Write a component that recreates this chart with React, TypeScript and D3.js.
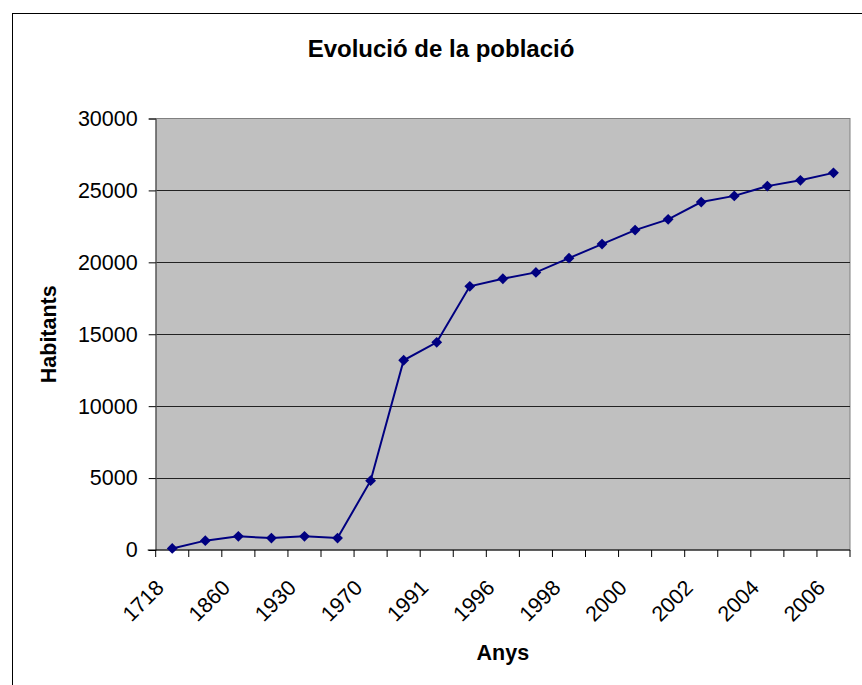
import React, { useEffect, useRef } from 'react';
import * as d3 from 'd3';

// categories (only every second one is labelled on the axis)
const anys = [
  '1718', '1787', '1860', '1900', '1930', '1950', '1970', '1981', '1991', '1995', '1996',
  '1997', '1998', '1999', '2000', '2001', '2002', '2003', '2004', '2005', '2006',
];
const habitants = [
  110, 650, 950, 830, 950, 830, 4820, 13190, 14440, 18330, 18860,
  19300, 20290, 21270, 22240, 22990, 24190, 24620, 25300, 25700, 26220,
];
const yTicks = [0, 5000, 10000, 15000, 20000, 25000, 30000];

const FONT = '"Liberation Sans", Arial, sans-serif';

const App = () => {
  const ref = useRef<SVGSVGElement>(null);

  useEffect(() => {
    const svg = d3.select(ref.current);
    svg.selectAll('*').remove();

    const left = 155.7;
    const right = 850;
    const top = 118.5;
    const bottom = 550;

    const x = d3.scaleBand().domain(anys).range([left, right]).padding(0);
    const y = d3.scaleLinear().domain([0, 30000]).range([bottom, top]);

    // outer frame
    svg.append('rect')
      .attr('x', 12.5).attr('y', 13.5)
      .attr('width', 900).attr('height', 720)
      .attr('fill', '#fff').attr('stroke', '#000').attr('stroke-width', 1);

    // title
    svg.append('text')
      .attr('x', 441).attr('y', 57)
      .attr('text-anchor', 'middle')
      .attr('font-family', FONT).attr('font-weight', 'bold').attr('font-size', 24)
      .text('Evolució de la població');

    // plot area
    svg.append('rect')
      .attr('x', left).attr('y', top)
      .attr('width', right - left).attr('height', bottom - top)
      .attr('fill', '#c0c0c0').attr('stroke', '#808080').attr('stroke-width', 1);

    // grid lines
    svg.append('g').selectAll('line')
      .data(yTicks.slice(1, -1))
      .join('line')
      .attr('x1', left).attr('x2', right)
      .attr('y1', d => Math.round(y(d)) + 0.5).attr('y2', d => Math.round(y(d)) + 0.5)
      .attr('stroke', '#222').attr('stroke-width', 1);

    // y axis
    const yAxis = svg.append('g')
      .attr('transform', `translate(${left},0)`)
      .call(d3.axisLeft(y).tickValues(yTicks).tickSize(7).tickPadding(11).tickFormat(d3.format('d')));
    yAxis.select('.domain').attr('stroke', '#555');
    yAxis.selectAll('line').attr('stroke', '#000');
    yAxis.selectAll('text')
      .attr('font-family', FONT).attr('font-size', 21.5).attr('fill', '#000');

    // x axis
    const g = svg.append('g');
    g.append('line')
      .attr('x1', left - 8).attr('x2', right)
      .attr('y1', bottom).attr('y2', bottom)
      .attr('stroke', '#000');
    g.selectAll('line.tick')
      .data(d3.range(anys.length + 1))
      .join('line')
      .attr('class', 'tick')
      .attr('x1', i => left + i * x.step()).attr('x2', i => left + i * x.step())
      .attr('y1', bottom).attr('y2', bottom + 7)
      .attr('stroke', '#000');
    g.selectAll('text')
      .data(anys.filter((_, i) => i % 2 === 0))
      .join('text')
      .attr('text-anchor', 'end')
      .attr('transform', d => `translate(${(x(d) as number) + x.bandwidth() / 2 - 7},${bottom + 39}) rotate(-45)`)
      .attr('font-family', FONT).attr('font-size', 21.5)
      .text(d => d);

    // axis titles
    svg.append('text')
      .attr('x', (left + right) / 2).attr('y', 660)
      .attr('text-anchor', 'middle')
      .attr('font-family', FONT).attr('font-weight', 'bold').attr('font-size', 21.5)
      .text('Anys');
    svg.append('text')
      .attr('transform', `translate(56,${(top + bottom) / 2}) rotate(-90)`)
      .attr('text-anchor', 'middle')
      .attr('font-family', FONT).attr('font-weight', 'bold').attr('font-size', 21.5)
      .text('Habitants');

    // line + markers
    const cx = (i: number) => (x(anys[i]) as number) + x.bandwidth() / 2;
    const line = d3.line<number>().x((_, i) => cx(i)).y(d => y(d));
    svg.append('path')
      .datum(habitants)
      .attr('d', line)
      .attr('fill', 'none').attr('stroke', '#000080').attr('stroke-width', 2);
    svg.append('g').selectAll('path')
      .data(habitants)
      .join('path')
      .attr('d', d3.symbol().type(d3.symbolDiamond2).size(75))
      .attr('transform', (d, i) => `translate(${cx(i)},${y(d)})`)
      .attr('fill', '#000080');
  }, []);

  return (
    <svg ref={ref} width={862} height={685} style={{ position: 'absolute', left: 0, top: 0 }} />
  );
};

export default App;
